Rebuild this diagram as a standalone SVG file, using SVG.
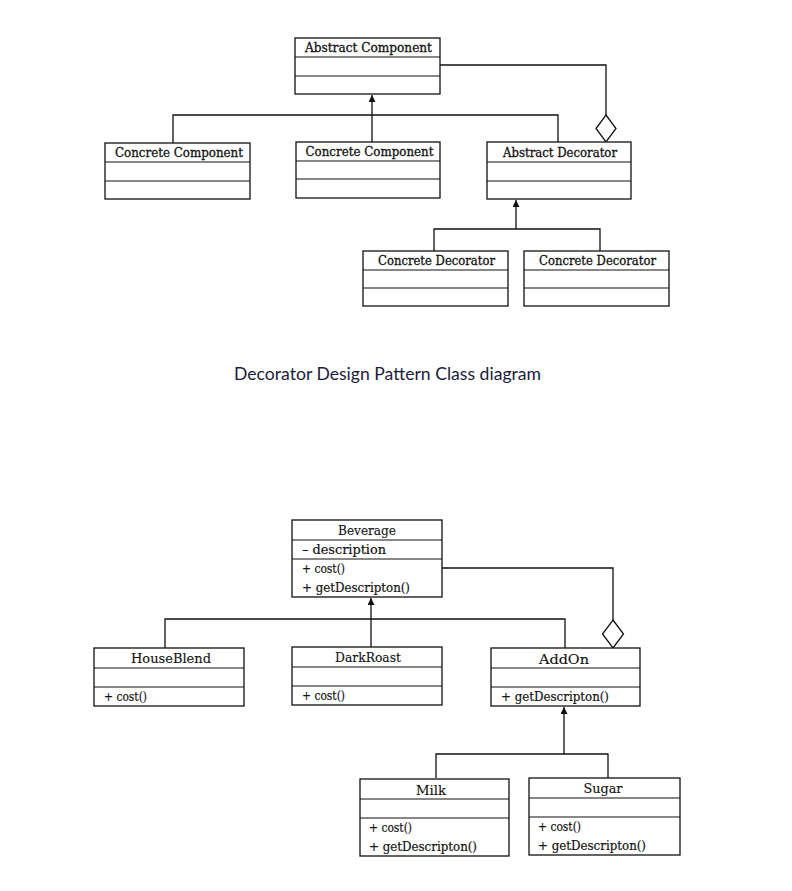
<svg xmlns="http://www.w3.org/2000/svg" width="792" height="891" viewBox="0 0 792 891">
  <style>
    .box { fill: #fff; stroke: #111; stroke-width: 1.3; }
    .sep { stroke: #111; stroke-width: 1.2; }
    .wire { fill: none; stroke: #111; stroke-width: 1.3; }
    .title { font-family: "DejaVu Serif", "Liberation Serif", serif; font-size: 12.5px; fill: #111; stroke: #111; stroke-width: 0.3; text-anchor: middle; }
    .name { font-family: "DejaVu Serif", "Liberation Serif", serif; font-size: 12.5px; fill: #111; stroke: #111; stroke-width: 0.12; text-anchor: middle; }
    .member { font-family: "DejaVu Serif", "Liberation Serif", serif; font-size: 12.5px; fill: #111; stroke: #111; stroke-width: 0.2; }
    .caption { font-family: Lato, "Open Sans", sans-serif; font-size: 17.6px; fill: #1c1c3a; }
    .diamond { fill: #fff; stroke: #111; stroke-width: 1.3; }
  </style>
  <defs>
    <marker id="tri" viewBox="0 0 10 10" refX="10" refY="5" markerWidth="7" markerHeight="7" orient="auto" markerUnits="userSpaceOnUse">
      <path d="M0,0 L10,5 L0,10 Z" fill="#111"/>
    </marker>
  </defs>
  <rect width="792" height="891" fill="#fff"/>

  <!-- Generic decorator pattern -->
  <g id="connectors-top">
    <path class="wire" d="M372,143 V95" marker-end="url(#tri)"/>
    <path class="wire" d="M173,143 V115 H558 V142"/>
    <path class="wire" d="M440,65 H606 V115"/>
    <path class="wire" d="M516,229 V200" marker-end="url(#tri)"/>
    <path class="wire" d="M434,251 V229 H600 V251"/>
  </g>
  <polygon class="diamond" points="606,115 616,128.5 606,142 596,128.5"/>

  <g id="abstract-component">
    <rect class="box" x="295" y="38" width="145" height="56"/>
    <line class="sep" x1="295" y1="57" x2="440" y2="57"/>
    <line class="sep" x1="295" y1="76" x2="440" y2="76"/>
    <text class="title" x="368.5" y="52" textLength="127" lengthAdjust="spacingAndGlyphs">Abstract Component</text>
  </g>
  <g id="concrete-component-1">
    <rect class="box" x="105" y="143" width="145" height="56"/>
    <line class="sep" x1="105" y1="162" x2="250" y2="162"/>
    <line class="sep" x1="105" y1="181" x2="250" y2="181"/>
    <text class="title" x="179" y="157" textLength="128" lengthAdjust="spacingAndGlyphs">Concrete Component</text>
  </g>
  <g id="concrete-component-2">
    <rect class="box" x="296" y="142" width="144" height="56"/>
    <line class="sep" x1="296" y1="161" x2="440" y2="161"/>
    <line class="sep" x1="296" y1="179" x2="440" y2="179"/>
    <text class="title" x="369.5" y="156" textLength="128" lengthAdjust="spacingAndGlyphs">Concrete Component</text>
  </g>
  <g id="abstract-decorator">
    <rect class="box" x="487" y="142" width="144" height="57"/>
    <line class="sep" x1="487" y1="162" x2="631" y2="162"/>
    <line class="sep" x1="487" y1="181" x2="631" y2="181"/>
    <text class="title" x="560" y="157" textLength="114" lengthAdjust="spacingAndGlyphs">Abstract Decorator</text>
  </g>
  <g id="concrete-decorator-1">
    <rect class="box" x="363" y="251" width="145" height="55"/>
    <line class="sep" x1="363" y1="270" x2="508" y2="270"/>
    <line class="sep" x1="363" y1="288" x2="508" y2="288"/>
    <text class="title" x="436.5" y="265" textLength="117" lengthAdjust="spacingAndGlyphs">Concrete Decorator</text>
  </g>
  <g id="concrete-decorator-2">
    <rect class="box" x="524" y="251" width="145" height="55"/>
    <line class="sep" x1="524" y1="270" x2="669" y2="270"/>
    <line class="sep" x1="524" y1="288" x2="669" y2="288"/>
    <text class="title" x="597.5" y="265" textLength="117" lengthAdjust="spacingAndGlyphs">Concrete Decorator</text>
  </g>

  <text class="caption" x="234" y="380">Decorator Design Pattern Class diagram</text>

  <!-- Beverage example -->
  <g id="connectors-bottom">
    <path class="wire" d="M371,648 V598" marker-end="url(#tri)"/>
    <path class="wire" d="M165,648 V619 H565 V648"/>
    <path class="wire" d="M442,568 H613 V620"/>
    <path class="wire" d="M564,754 V707" marker-end="url(#tri)"/>
    <path class="wire" d="M436,778 V754 H608 V778"/>
  </g>
  <polygon class="diamond" points="613,620 623.5,634 613,648 602.5,634"/>

  <g id="beverage">
    <rect class="box" x="292" y="520" width="150" height="77"/>
    <line class="sep" x1="292" y1="540" x2="442" y2="540"/>
    <line class="sep" x1="292" y1="559" x2="442" y2="559"/>
    <text class="name" x="367" y="535" textLength="58" lengthAdjust="spacingAndGlyphs">Beverage</text>
    <text class="member" x="302" y="554" textLength="84" lengthAdjust="spacingAndGlyphs">–  description</text>
    <text class="member" x="302" y="573" textLength="43" lengthAdjust="spacingAndGlyphs">+ cost()</text>
    <text class="member" x="302" y="592" textLength="108" lengthAdjust="spacingAndGlyphs">+ getDescripton()</text>
  </g>
  <g id="houseblend">
    <rect class="box" x="94" y="648" width="150" height="58"/>
    <line class="sep" x1="94" y1="668" x2="244" y2="668"/>
    <line class="sep" x1="94" y1="687" x2="244" y2="687"/>
    <text class="name" x="171" y="663" textLength="80" lengthAdjust="spacingAndGlyphs">HouseBlend</text>
    <text class="member" x="104" y="701" textLength="43" lengthAdjust="spacingAndGlyphs">+ cost()</text>
  </g>
  <g id="darkroast">
    <rect class="box" x="292" y="647" width="150" height="58"/>
    <line class="sep" x1="292" y1="667" x2="442" y2="667"/>
    <line class="sep" x1="292" y1="686" x2="442" y2="686"/>
    <text class="name" x="368" y="662" textLength="66" lengthAdjust="spacingAndGlyphs">DarkRoast</text>
    <text class="member" x="302" y="700" textLength="43" lengthAdjust="spacingAndGlyphs">+ cost()</text>
  </g>
  <g id="addon">
    <rect class="box" x="491" y="648" width="149" height="58"/>
    <line class="sep" x1="491" y1="668" x2="640" y2="668"/>
    <line class="sep" x1="491" y1="687" x2="640" y2="687"/>
    <text class="name" x="564" y="664" textLength="50" lengthAdjust="spacingAndGlyphs">AddOn</text>
    <text class="member" x="501" y="701" textLength="108" lengthAdjust="spacingAndGlyphs">+ getDescripton()</text>
  </g>
  <g id="milk">
    <rect class="box" x="360" y="779" width="149" height="77"/>
    <line class="sep" x1="360" y1="799" x2="509" y2="799"/>
    <line class="sep" x1="360" y1="818" x2="509" y2="818"/>
    <text class="name" x="431" y="795" textLength="30" lengthAdjust="spacingAndGlyphs">Milk</text>
    <text class="member" x="369" y="832" textLength="43" lengthAdjust="spacingAndGlyphs">+ cost()</text>
    <text class="member" x="369" y="851" textLength="108" lengthAdjust="spacingAndGlyphs">+ getDescripton()</text>
  </g>
  <g id="sugar">
    <rect class="box" x="529" y="778" width="151" height="77"/>
    <line class="sep" x1="529" y1="798" x2="680" y2="798"/>
    <line class="sep" x1="529" y1="817" x2="680" y2="817"/>
    <text class="name" x="603" y="793" textLength="39" lengthAdjust="spacingAndGlyphs">Sugar</text>
    <text class="member" x="538" y="831" textLength="43" lengthAdjust="spacingAndGlyphs">+ cost()</text>
    <text class="member" x="538" y="850" textLength="108" lengthAdjust="spacingAndGlyphs">+ getDescripton()</text>
  </g>
</svg>
